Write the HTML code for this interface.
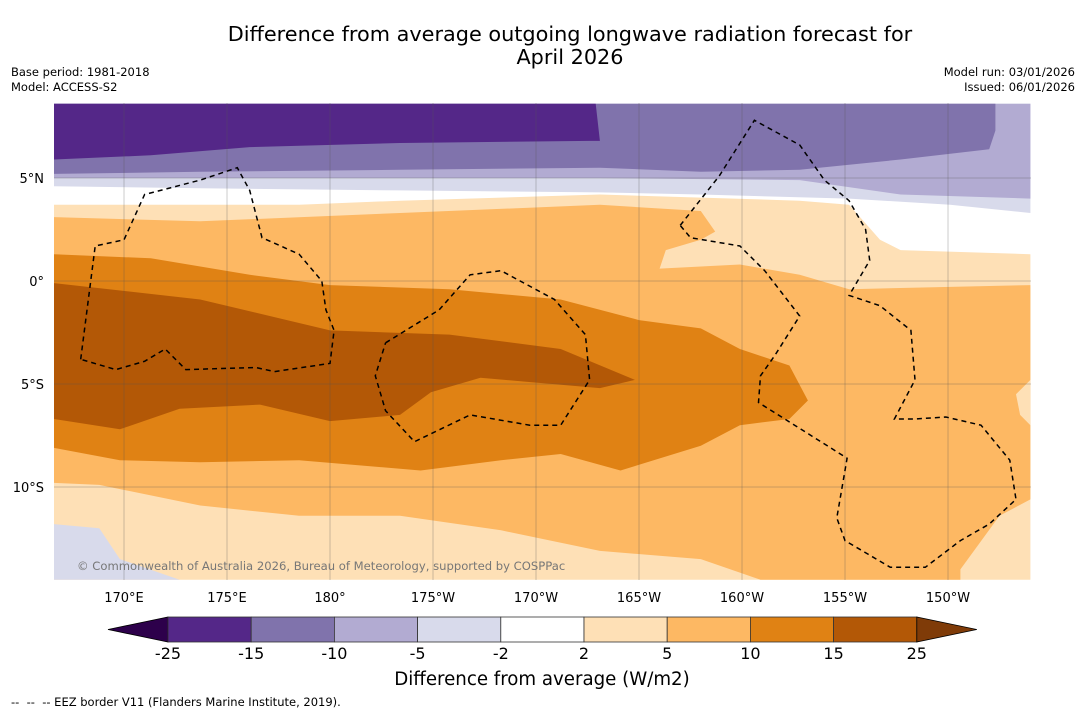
<!DOCTYPE html>
<html><head><meta charset="utf-8"><style>
body{margin:0;background:#fff;font-family:"Liberation Sans","DejaVu Sans",sans-serif}
svg{display:block}
</style></head><body>
<svg id="c" width="1085" height="713" viewBox="0 0 1085 713">
<text x="570" y="41" font-size="20.8" text-anchor="middle" font-family="DejaVu Sans, sans-serif">Difference from average outgoing longwave radiation forecast for</text>
<text x="570" y="64" font-size="20.8" text-anchor="middle" font-family="DejaVu Sans, sans-serif">April 2026</text>
<text x="11" y="76" font-size="11.5" font-family="DejaVu Sans, sans-serif">Base period: 1981-2018</text>
<text x="11" y="91" font-size="11.5" font-family="DejaVu Sans, sans-serif">Model: ACCESS-S2</text>
<text x="1075" y="76" font-size="11.5" text-anchor="end" font-family="DejaVu Sans, sans-serif">Model run: 03/01/2026</text>
<text x="1075" y="91" font-size="11.5" text-anchor="end" font-family="DejaVu Sans, sans-serif">Issued: 06/01/2026</text>
<defs><clipPath id="mc"><rect x="54" y="103" width="977" height="477"/></clipPath></defs>
<g id="map" clip-path="url(#mc)"></g>
<g id="axes"></g>
<g id="cbar"></g>
<text x="542" y="685" font-size="18.2" text-anchor="middle" font-family="DejaVu Sans, sans-serif">Difference from average (W/m2)</text>
<text x="11" y="706" font-size="11.5" font-family="DejaVu Sans, sans-serif" xml:space="preserve">--  --  -- EEZ border V11 (Flanders Marine Institute, 2019).</text>
</svg>
<script>
const lonTicks=[170,175,180,185,190,195,200,205,210];
const lonLabels=["170°E","175°E","180°","175°W","170°W","165°W","160°W","155°W","150°W"];
const latTicks=[5,0,-5,-10];
const latLabels=["5°N","0°","5°S","10°S"];
const levels=["-25","-15","-10","-5","-2","2","5","10","15","25"];
const levelColors=["#542788","#8073ac","#b2abd2","#d8daeb","#ffffff","#fee0b6","#fdb863","#e08214","#b35806"];
const bandLight=[[166.6,3.7],[178.5,3.7],[183.4,3.9],[193.1,4.2],[202.8,3.9],[205.2,3.7],[206.7,2.0],[207.7,1.5],[214,1.3],[214,-14.5],[166.6,-14.5]];
const band5=[[166.6,3.1],[173.7,2.9],[183.4,3.3],[193.1,3.7],[198,3.4],[198.7,2.4],[198,2.0],[196.3,1.5],[196,0.6],[199.9,0.8],[202.8,0.3],[205.2,-0.4],[214,-0.2],[214,-10.6],[212.5,-11.4],[210.6,-14.0],[210.6,-14.5],[200.9,-14.5],[198,-13.5],[193.1,-13.1],[188.3,-12.1],[183.4,-11.4],[178.5,-11.4],[173.7,-10.9],[168.8,-9.9],[166.6,-9.8]];
const band10=[[166.6,1.3],[171.3,1.1],[176.1,0.3],[180,-0.2],[185.8,-0.4],[191.2,-0.9],[195,-1.9],[198,-2.3],[199.9,-3.3],[202.3,-4.1],[203.2,-5.8],[202.3,-6.7],[199.9,-7.0],[198,-8.0],[194.1,-9.2],[191.2,-8.4],[188.3,-8.7],[184.4,-9.2],[178.5,-8.7],[173.7,-8.8],[169.8,-8.7],[166.6,-8.1]];
const band15=[[166.6,-0.1],[173.7,-0.9],[180,-2.4],[185.8,-2.6],[191.2,-3.3],[194.8,-4.8],[193.1,-5.2],[187.3,-4.7],[184.9,-5.4],[183.4,-6.5],[180,-6.8],[176.6,-6.0],[172.7,-6.2],[169.8,-7.2],[166.6,-6.7]];
const bandLav=[[166.6,-11.8],[168.8,-12.0],[169.8,-13.5],[172.7,-14.5],[166.6,-14.5]];
const bandLightR=[[214,-4.8],[213.3,-5.5],[213.5,-6.5],[214,-7.0]];
const bandN2=[[166.6,8.6],[214,8.6],[214,3.3],[210.1,3.7],[205.2,4.0],[198,4.2],[193.1,4.3],[183.4,4.4],[173.7,4.5],[166.6,4.6]];
const bandN5=[[166.6,8.6],[214,8.6],[214,4.0],[207.7,4.2],[202.8,4.9],[193.1,5.0],[183.4,5.0],[173.7,5.0],[166.6,5.0]];
const bandN10=[[166.6,8.6],[212.3,8.6],[212.3,7.3],[212,6.4],[207.7,5.9],[202.8,5.4],[198,5.3],[193.1,5.5],[183.4,5.4],[173.7,5.3],[166.6,5.2]];
const bandN15=[[166.6,8.6],[192.9,8.6],[193.1,6.8],[192.6,6.8],[183.4,6.7],[176.1,6.5],[171.3,6.1],[166.6,5.9]];
const eezA=[[167.9,-3.8],[168.6,1.7],[170,2.0],[171,4.2],[173.7,4.9],[175.5,5.5],[176.1,4.4],[176.7,2.1],[178.5,1.3],[179.6,0],[179.8,-1.4],[180.2,-2.4],[180,-4.0],[177.3,-4.4],[176.4,-4.2],[173,-4.3],[172,-3.3],[171,-3.9],[169.6,-4.3],[167.9,-3.8]];
const eezB=[[182.7,-3.0],[185.3,-1.4],[186.8,0.3],[188.3,0.5],[190.9,-0.9],[192.4,-2.6],[192.6,-4.8],[191.2,-7.0],[189.7,-7.0],[186.8,-6.5],[184.1,-7.8],[182.7,-6.3],[182.2,-4.6],[182.7,-3.0]];
const eezC=[[197,2.7],[198.9,5.1],[200.6,7.8],[202.8,6.6],[204,4.9],[205.2,3.9],[206,2.5],[206.2,1.0],[205.2,-0.7],[206.7,-1.2],[208.2,-2.4],[208.4,-4.8],[207.4,-6.7],[208.4,-6.7],[209.9,-6.6],[211.6,-7.0],[213,-8.7],[213.3,-10.6],[212,-11.8],[210.6,-12.6],[208.9,-13.9],[207.2,-13.9],[205,-12.6],[204.6,-11.5],[205.1,-8.6],[200.8,-5.9],[200.9,-4.6],[201.6,-3.6],[202.8,-1.7],[201.1,0.5],[199.9,1.7],[197.5,2.1],[197,2.7]];

const X=lon=>124+(lon-170)*20.6;
const Y=lat=>281-lat*20.6;
const NS='http://www.w3.org/2000/svg';
const pts=a=>a.map(p=>X(p[0]).toFixed(1)+','+Y(p[1]).toFixed(1)).join(' ');
const map=document.getElementById('map');
function mk(tag,parent,attrs){const e=document.createElementNS(NS,tag);for(const k in attrs)e.setAttribute(k,attrs[k]);parent.appendChild(e);return e;}
const bg=mk('rect',map,{x:54,y:103,width:977,height:477,fill:'#ffffff'});


const bands=[[bandLight,5,'band-2-5'],[band5,6,'band-5-10'],[band10,7,'band-10-15'],[band15,8,'band-15-25'],[bandLav,3,'band-neg5-neg2-south'],[bandLightR,5,'band-2-5-east'],[bandN2,3,'band-neg5-neg2'],[bandN5,2,'band-neg10-neg5'],[bandN10,1,'band-neg15-neg10'],[bandN15,0,'band-neg25-neg15']];
bands.forEach(b=>{const p=mk('polygon',map,{points:pts(b[0]),fill:levelColors[b[1]]});

});
const ax=document.getElementById('axes');
lonTicks.forEach((l,i)=>{const g=mk('line',ax,{x1:X(l),x2:X(l),y1:103,y2:580,stroke:'#555','stroke-width':0.5,'stroke-opacity':0.6});


const t=mk('text',ax,{x:X(l),y:602,'font-size':13,'text-anchor':'middle','font-family':'DejaVu Sans, sans-serif'});t.textContent=lonLabels[i];

});
latTicks.forEach((l,i)=>{const g=mk('line',ax,{x1:54,x2:1031,y1:Y(l),y2:Y(l),stroke:'#555','stroke-width':0.5,'stroke-opacity':0.6});


const t=mk('text',ax,{x:44,y:Y(l)+5,'font-size':13,'text-anchor':'end','font-family':'DejaVu Sans, sans-serif'});t.textContent=latLabels[i];

});
[eezA,eezB,eezC].forEach(e=>{const p=mk('polyline',ax,{points:pts(e),fill:'none',stroke:'#000','stroke-width':1.5,'stroke-dasharray':'5,4'});

});
const cr=mk('text',ax,{x:77,y:570,'font-size':11.6,fill:'#777','font-family':'DejaVu Sans, sans-serif'});cr.textContent='© Commonwealth of Australia 2026, Bureau of Meteorology, supported by COSPPac';


const cb=document.getElementById('cbar');
const cx0=168,cw=83.2,cy=617,ch=25;
const lt=mk('polygon',cb,{points:`${cx0},${cy} ${cx0},${cy+ch} 108,${cy+ch/2}`,fill:'#2d004b',stroke:'#000','stroke-width':0.8});


levelColors.forEach((c,i)=>{const r=mk('rect',cb,{x:cx0+i*cw,y:cy,width:cw,height:ch,fill:c,stroke:'#333','stroke-width':0.8});

});
const xe=cx0+levelColors.length*cw;
const rt=mk('polygon',cb,{points:`${xe},${cy} ${xe},${cy+ch} ${xe+60},${cy+ch/2}`,fill:'#7f3b08',stroke:'#000','stroke-width':0.8});


levels.forEach((l,i)=>{const t=mk('text',cb,{x:cx0+i*cw,y:659,'font-size':16,'text-anchor':'middle','font-family':'DejaVu Sans, sans-serif'});t.textContent=l;

});
</script>
</body></html>
